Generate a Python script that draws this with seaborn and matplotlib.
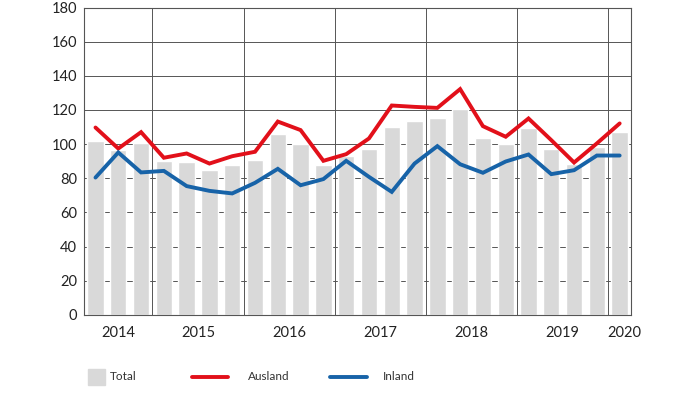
import numpy as np
import pandas as pd
import seaborn as sns
import matplotlib.pyplot as plt
from matplotlib.patches import Rectangle
from matplotlib.lines import Line2D

sns.set_style('white')
plt.rcParams['font.family'] = ['Lato', 'DejaVu Sans']

# quarterly values, 24 quarters
quarters = list(range(24))
total = [101.7, 96.4, 100.7, 90.0, 89.4, 84.7, 87.5, 90.8, 106.2, 100.3, 87.9, 93.1,
         97.4, 110.1, 113.6, 115.4, 120.7, 103.5, 100.3, 109.5, 97.4, 88.2, 98.4, 107.2]
ausland = [109.7, 97.4, 107.0, 92.0, 94.5, 88.6, 92.9, 95.5, 113.2, 108.2, 90.2, 94.1,
           103.3, 122.6, 121.8, 121.2, 132.2, 110.5, 104.3, 115.0, 102.3, 89.2, 100.4, 112.1]
inland = [80.4, 95.1, 83.4, 84.3, 75.4, 72.6, 71.1, 77.3, 85.5, 75.9, 79.5, 90.2,
          80.8, 72.0, 88.6, 98.8, 88.2, 83.2, 89.8, 93.9, 82.4, 84.7, 93.3, 93.3]
year_labels = ['2014', '2015', '2016', '2017', '2018', '2019', '2020']
year_pos = [1, 4.5, 8.5, 12.5, 16.5, 20.5, 23.2]

df = pd.DataFrame({'q': quarters, 'Total': total, 'Ausland': ausland, 'Inland': inland})

red = '#e2101a'
blue = '#1763a8'
bar_col = '#d9d9d9'
grid_col = '#555555'

fig = plt.figure(figsize=(6.95, 3.95), dpi=100)
ax = fig.add_axes([0.121, 0.203, 0.787, 0.778])

sns.barplot(data=df, x='q', y='Total', color=bar_col, width=0.72, saturation=1, ax=ax, zorder=1)
ax.plot(df['q'], df['Ausland'], color=red, lw=2.8, zorder=3, solid_joinstyle='miter')
ax.plot(df['q'], df['Inland'], color=blue, lw=2.8, zorder=3, solid_joinstyle='miter')

ax.set_xlim(-0.5, 23.5)
ax.set_ylim(0, 180)
ax.set_yticks(np.arange(0, 181, 20))
ax.yaxis.grid(True, color=grid_col, lw=0.7)
ax.set_axisbelow(True)
for gx in [2.5, 6.5, 10.5, 14.5, 18.5, 22.5]:
    ax.axvline(gx, color=grid_col, lw=0.7, zorder=0.5)

ax.xaxis.remove_overlapping_locs = False
ax.set_xticks(np.arange(0.5, 23.5, 1))
ax.set_xticklabels([])
ax.set_xticks(year_pos, year_labels, minor=True)
ax.tick_params(axis='x', which='major', direction='out', length=5, width=0.8, color=grid_col)
ax.tick_params(axis='x', which='minor', length=0, labelsize=10.5, pad=8, labelcolor='#222222')
ax.tick_params(axis='y', direction='in', length=5, width=0.8, color=grid_col,
               labelsize=10.5, labelcolor='#222222', pad=5)
ax.set_xlabel('')
ax.set_ylabel('')
for s in ax.spines.values():
    s.set_color(grid_col)
    s.set_linewidth(0.8)

# legend below the chart, in figure pixels
W, H = 695, 395
ly = 1 - 377 / H
fig.patches.append(Rectangle((88 / W, 1 - 385 / H), 17 / W, 16 / H, color=bar_col,
                             transform=fig.transFigure, figure=fig))
fig.lines.append(Line2D([192 / W, 228 / W], [ly, ly], color=red, lw=2.8,
                        transform=fig.transFigure, figure=fig))
fig.lines.append(Line2D([330 / W, 367 / W], [ly, ly], color=blue, lw=2.8,
                        transform=fig.transFigure, figure=fig))
for tx, lab in [(110, 'Total'), (248, 'Ausland'), (383, 'Inland')]:
    fig.text(tx / W, ly, lab, fontsize=8.5, va='center', ha='left', color='#333333')

fig.savefig('out.png', dpi=100)
